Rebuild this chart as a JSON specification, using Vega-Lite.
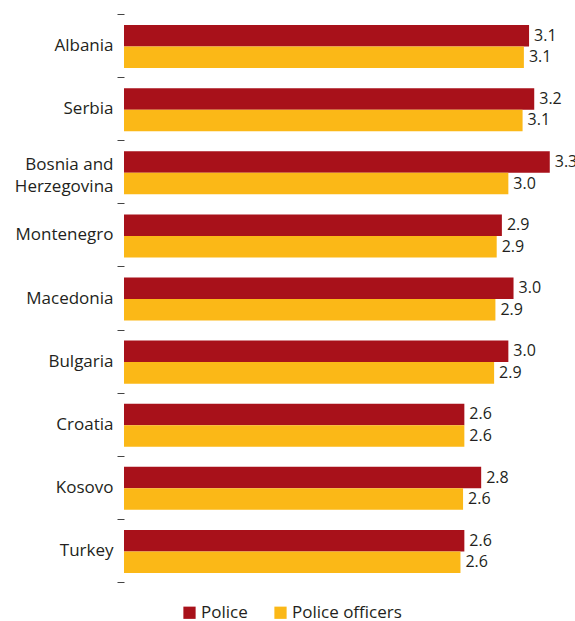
{
  "$schema": "https://vega.github.io/schema/vega-lite/v6.json",
  "width": 440,
  "height": 568,
  "autosize": {"type": "none"},
  "padding": {"left": 124, "top": 14, "right": 11, "bottom": 39},
  "config": {"view": {"stroke": null}, "font": "Open Sans"},
  "data": {
    "values": [
      {"country": "Albania", "series": "Police", "value": 3.13},
      {"country": "Albania", "series": "Police officers", "value": 3.09},
      {"country": "Serbia", "series": "Police", "value": 3.17},
      {"country": "Serbia", "series": "Police officers", "value": 3.08},
      {"country": "Bosnia and Herzegovina", "series": "Police", "value": 3.29},
      {"country": "Bosnia and Herzegovina", "series": "Police officers", "value": 2.97},
      {"country": "Montenegro", "series": "Police", "value": 2.92},
      {"country": "Montenegro", "series": "Police officers", "value": 2.88},
      {"country": "Macedonia", "series": "Police", "value": 3.01},
      {"country": "Macedonia", "series": "Police officers", "value": 2.87},
      {"country": "Bulgaria", "series": "Police", "value": 2.97},
      {"country": "Bulgaria", "series": "Police officers", "value": 2.86},
      {"country": "Croatia", "series": "Police", "value": 2.63},
      {"country": "Croatia", "series": "Police officers", "value": 2.63},
      {"country": "Kosovo", "series": "Police", "value": 2.76},
      {"country": "Kosovo", "series": "Police officers", "value": 2.62},
      {"country": "Turkey", "series": "Police", "value": 2.63},
      {"country": "Turkey", "series": "Police officers", "value": 2.6}
    ]
  },
  "encoding": {
    "y": {
      "field": "country",
      "type": "nominal",
      "sort": ["Albania", "Serbia", "Bosnia and Herzegovina", "Montenegro", "Macedonia", "Bulgaria", "Croatia", "Kosovo", "Turkey"],
      "scale": {"paddingInner": 0, "paddingOuter": 0},
      "axis": {
        "title": null,
        "domain": false,
        "tickBand": "extent",
        "tickSize": 7,
        "tickColor": "#444444",
        "labelPadding": 4,
        "labelFontSize": 17,
        "labelColor": "#231F20",
        "labelLineHeight": 22,
        "labelOffset": {"condition": {"test": "datum.value == 'Bosnia and Herzegovina'", "value": -7}, "value": 0},
        "labelExpr": "datum.label == 'Bosnia and Herzegovina' ? ['Bosnia and', 'Herzegovina'] : datum.label"
      }
    },
    "yOffset": {
      "field": "series",
      "type": "nominal",
      "sort": ["Police", "Police officers"],
      "scale": {"paddingInner": 0, "paddingOuter": 0.467, "align": 0.55}
    },
    "x": {"field": "value", "type": "quantitative", "scale": {"domain": [0, 3.4]}, "axis": null}
  },
  "layer": [
    {
      "mark": {"type": "bar"},
      "encoding": {
        "color": {
          "field": "series",
          "type": "nominal",
          "scale": {"domain": ["Police", "Police officers"], "range": ["#A8111A", "#FBB817"]},
          "legend": {
            "title": null,
            "orient": "none",
            "direction": "horizontal",
            "legendX": 57,
            "legendY": 590,
            "symbolType": "square",
            "symbolSize": 150,
            "symbolStrokeWidth": 0,
            "symbolOpacity": 1,
            "labelFontSize": 17,
            "labelColor": "#231F20",
            "labelOffset": 3,
            "columnPadding": 24
          }
        }
      }
    },
    {
      "mark": {"type": "text", "align": "left", "baseline": "middle", "dx": 5, "fontSize": 16, "color": "#231F20"},
      "encoding": {"text": {"field": "value", "type": "quantitative", "format": ".1f"}}
    }
  ]
}
